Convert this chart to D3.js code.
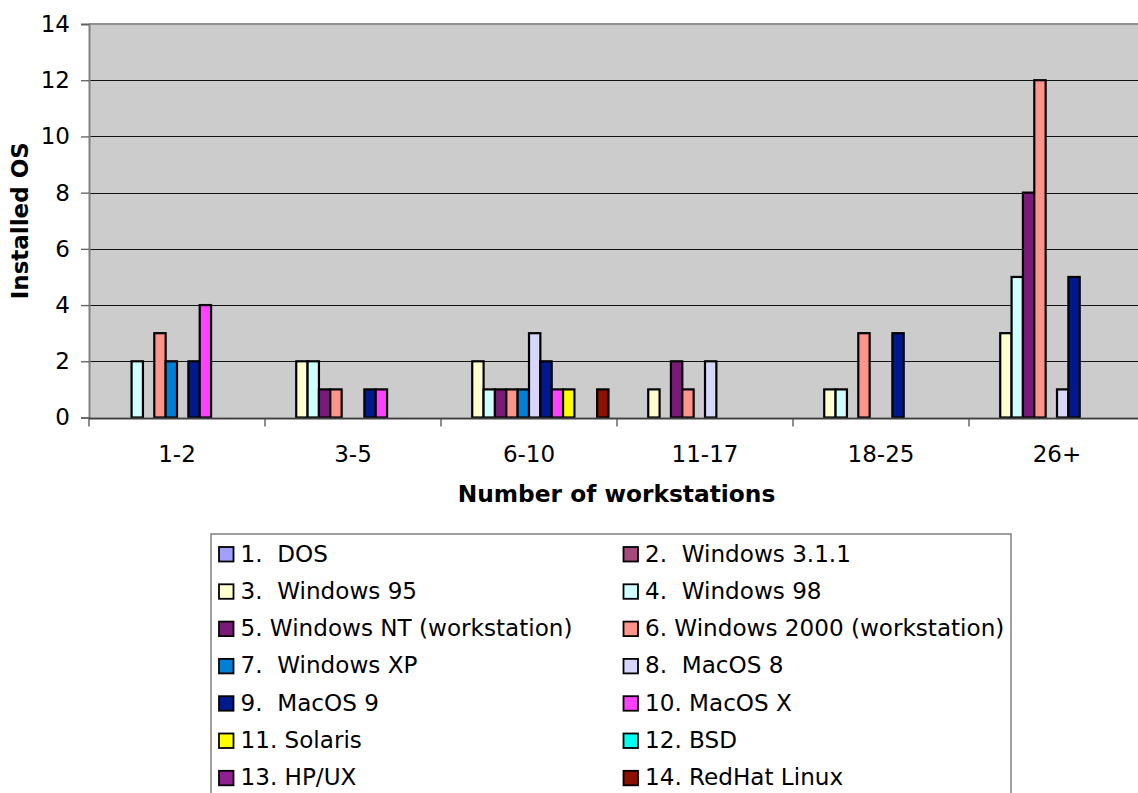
<!DOCTYPE html>
<html>
<head>
<meta charset="utf-8">
<script src="https://cdn.jsdelivr.net/npm/d3@7"></script>
<style>
  html, body { margin: 0; padding: 0; background: #fff; }
  svg { display: block; font-family: "DejaVu Sans", Verdana, sans-serif; }
  text { white-space: pre; }
</style>
</head>
<body>
<svg id="chart" width="1138" height="793"></svg>
<script>
// ---- Data ----
const categories = ["1-2", "3-5", "6-10", "11-17", "18-25", "26+"];
const seriesNames = [
  "1.  DOS", "2.  Windows 3.1.1", "3.  Windows 95", "4.  Windows 98",
  "5. Windows NT (workstation)", "6. Windows 2000 (workstation)",
  "7.  Windows XP", "8.  MacOS 8", "9.  MacOS 9", "10. MacOS X",
  "11. Solaris", "12. BSD", "13. HP/UX", "14. RedHat Linux"
];
const seriesColors = [
  "#a0a0ff", "#a34a78", "#ffffd0", "#d0ffff", "#7a1a78", "#ff948a",
  "#0080d4", "#d6d6ff", "#001a8e", "#ff40ff", "#ffff00", "#00fff0",
  "#902090", "#8c1000"
];
const seriesValues = [
  [0, 0, 0, 0, 0, 0],   // DOS
  [0, 0, 0, 0, 0, 0],   // Windows 3.1.1
  [0, 2, 2, 1, 1, 3],   // Windows 95
  [2, 2, 1, 0, 1, 5],   // Windows 98
  [0, 1, 1, 2, 0, 8],   // Windows NT
  [3, 1, 1, 1, 3, 12],  // Windows 2000
  [2, 0, 1, 0, 0, 0],   // Windows XP
  [0, 0, 3, 2, 0, 1],   // MacOS 8
  [2, 1, 2, 0, 3, 5],   // MacOS 9
  [4, 1, 1, 0, 0, 0],   // MacOS X
  [0, 0, 1, 0, 0, 0],   // Solaris
  [0, 0, 0, 0, 0, 0],   // BSD
  [0, 0, 0, 0, 0, 0],   // HP/UX
  [0, 0, 1, 0, 0, 0]    // RedHat Linux
];
const yTicks = [0, 2, 4, 6, 8, 10, 12, 14];
const xTitle = "Number of workstations";
const yTitle = "Installed OS";

// ---- Layout ----
const svg = d3.select("#chart");
const plot = { left: 89, right: 1145, top: 24, bottom: 417.5 };
const FONT = 23;
const LFONT = 23.1;

const x = d3.scaleBand().domain(categories).range([plot.left, plot.right]).paddingInner(0).paddingOuter(0);
const xs = d3.scaleBand().domain(d3.range(seriesNames.length)).range([0, x.bandwidth()]).paddingInner(0).paddingOuter(0.75);
const y = d3.scaleLinear().domain([0, 14]).range([plot.bottom, plot.top]);

// plot background
svg.append("rect")
  .attr("x", plot.left).attr("y", plot.top)
  .attr("width", plot.right - plot.left).attr("height", plot.bottom - plot.top)
  .attr("fill", "#cccccc");

// gridlines
svg.append("g").selectAll("line").data(yTicks.filter(d => d > 0 && d < 14)).join("line")
  .attr("x1", plot.left).attr("x2", plot.right)
  .attr("y1", d => Math.round(y(d)) + 0.5).attr("y2", d => Math.round(y(d)) + 0.5)
  .attr("stroke", "#111").attr("stroke-width", 1.2);

// top border
svg.append("line").attr("x1", plot.left).attr("x2", plot.right)
  .attr("y1", plot.top).attr("y2", plot.top).attr("stroke", "#909090").attr("stroke-width", 2);

// bars
const barData = [];
seriesValues.forEach((vals, si) => vals.forEach((v, ci) => {
  if (v > 0) barData.push({ si, ci, v });
}));
svg.append("g").selectAll("rect").data(barData).join("rect")
  .attr("x", d => x(categories[d.ci]) + xs(d.si))
  .attr("y", d => y(d.v))
  .attr("width", xs.bandwidth())
  .attr("height", d => y(0) - y(d.v))
  .attr("fill", d => seriesColors[d.si])
  .attr("stroke", "#000").attr("stroke-width", 2.2);

// y axis
const yAxis = d3.axisLeft(y).tickValues(yTicks).tickSize(8).tickPadding(11).tickFormat(d3.format("d"));
const gy = svg.append("g").attr("transform", `translate(${plot.left},0)`).call(yAxis);
gy.select(".domain").attr("stroke", "#808080").attr("stroke-width", 2);
gy.selectAll(".tick line").attr("stroke", "#606060").attr("stroke-width", 1.3);
gy.selectAll(".tick text").attr("font-size", FONT).attr("fill", "#000")
  .attr("font-family", '"DejaVu Sans", Verdana, sans-serif');

// x axis
const boundaries = categories.map(c => x(c)).concat([plot.right]);
svg.append("line").attr("x1", plot.left).attr("x2", plot.right)
  .attr("y1", plot.bottom + 1).attr("y2", plot.bottom + 1)
  .attr("stroke", "#404040").attr("stroke-width", 2);
svg.append("g").selectAll("line").data(boundaries).join("line")
  .attr("x1", d => d).attr("x2", d => d)
  .attr("y1", plot.bottom + 1).attr("y2", plot.bottom + 9)
  .attr("stroke", "#505050").attr("stroke-width", 1.3);
svg.append("g").selectAll("text").data(categories).join("text")
  .attr("x", d => x(d) + x.bandwidth() / 2)
  .attr("y", 462)
  .attr("text-anchor", "middle")
  .attr("font-size", FONT)
  .text(d => d);

// axis titles
svg.append("text")
  .attr("x", (plot.left + plot.right) / 2 - 0.5).attr("y", 501.5)
  .attr("text-anchor", "middle").attr("font-size", FONT + 0.3).attr("font-weight", "bold")
  .text(xTitle);
svg.append("text")
  .attr("transform", `translate(28,${(plot.top + plot.bottom) / 2}) rotate(-90)`)
  .attr("text-anchor", "middle").attr("font-size", FONT).attr("font-weight", "bold")
  .text(yTitle);

// legend
const legend = { left: 211, top: 534, right: 1011, rowH: 37.3, firstBase: 561.5, col2: 623.5 };
svg.append("rect")
  .attr("x", legend.left).attr("y", legend.top)
  .attr("width", legend.right - legend.left).attr("height", 300)
  .attr("fill", "#fff").attr("stroke", "#808080").attr("stroke-width", 1.5);
const lg = svg.append("g").selectAll("g").data(seriesNames).join("g")
  .attr("transform", (d, i) => {
    const col = i % 2, row = Math.floor(i / 2);
    const sx = col === 0 ? 219 : legend.col2;
    return `translate(${sx},${legend.firstBase + row * legend.rowH})`;
  });
lg.append("rect")
  .attr("x", 0).attr("y", -14.5).attr("width", 14.5).attr("height", 14.5)
  .attr("fill", (d, i) => seriesColors[i])
  .attr("stroke", "#000").attr("stroke-width", 1.8);
lg.append("text")
  .attr("x", 21.5).attr("y", 0)
  .attr("font-size", LFONT)
  .text(d => d);
</script>
</body>
</html>
